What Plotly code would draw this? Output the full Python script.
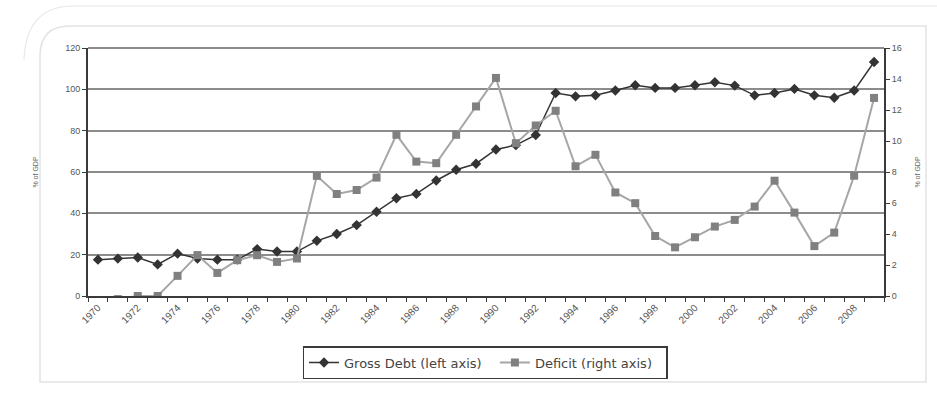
import plotly.graph_objects as go

years = list(range(1970, 2010))
gross_debt = [17.6, 18.1, 18.6, 15.3, 20.5, 18.1, 17.6, 17.6, 22.7, 21.5,
              21.5, 26.7, 30.0, 34.3, 40.8, 47.3, 49.4, 55.9, 61.1, 64.0,
              70.9, 73.0, 77.9, 98.2, 96.6, 97.1, 99.4, 102.0, 100.7, 100.7,
              102.0, 103.4, 101.8, 97.1, 98.2, 100.2, 97.1, 95.9, 99.4, 113.2]
deficit = [-0.6, -0.2, 0.0, 0.0, 1.3, 2.64, 1.49, 2.31, 2.63, 2.2,
           2.42, 7.75, 6.58, 6.84, 7.64, 10.4, 8.67, 8.57, 10.4, 12.23,
           14.07, 9.86, 11.0, 11.95, 8.37, 9.11, 6.68, 5.99, 3.87, 3.14,
           3.79, 4.48, 4.91, 5.77, 7.44, 5.38, 3.22, 4.09, 7.76, 12.78]
label_years = list(range(1970, 2010, 2))
left_ticks = [0, 20, 40, 60, 80, 100, 120]
right_ticks = [0, 2, 4, 6, 8, 10, 12, 14, 16]

W, H = 937, 396
L, R, T, B = 88, 53, 48, 100
PW, PH = W - L - R, H - T - B

def px(x):
    return (x - L) / PW

def py(y):
    return (H - B - y) / PH

FONT = "Arial, Liberation Sans, sans-serif"
NB = "\u00a0\u00a0"

fig = go.Figure()
fig.add_trace(go.Scatter(
    x=years, y=gross_debt, name="Gross Debt (left axis)" + NB, mode="lines+markers",
    line=dict(color="#333333", width=1.5),
    marker=dict(symbol="diamond", size=8, color="#333333"),
    yaxis="y"))
fig.add_trace(go.Scatter(
    x=years, y=deficit, name="Deficit (right axis)" + NB, mode="lines+markers",
    line=dict(color="#a6a6a6", width=2),
    marker=dict(symbol="square", size=8, color="#808080"),
    yaxis="y2"))

fig.update_layout(
    width=W, height=H,
    margin=dict(l=L, r=R, t=T, b=B, pad=0),
    paper_bgcolor="white", plot_bgcolor="white",
    font=dict(family=FONT, color="#555555", size=9),
    xaxis=dict(
        range=[1969.5, 2009.5], tickmode="array", tickvals=label_years,
        ticktext=[str(y) for y in label_years], tickangle=-45,
        tickfont=dict(size=10, color="#555555"),
        ticks="", showgrid=False, zeroline=False,
        showline=True, linecolor="#3a3a3a", linewidth=2,
        minor=dict(tick0=1969.5, dtick=1, ticks="outside", ticklen=4,
                   tickcolor="#3a3a3a", tickwidth=1, showgrid=False),
    ),
    yaxis=dict(
        range=[0, 120], tickvals=left_ticks, ticks="outside", ticklen=4,
        tickcolor="#3a3a3a", showgrid=True, gridcolor="#8c8c8c", gridwidth=2,
        zeroline=False, showline=True, linecolor="#3a3a3a", linewidth=2,
        tickfont=dict(size=9, color="#555555"),
        title=dict(text="% of GDP", font=dict(size=7, color="#666666"), standoff=26),
    ),
    yaxis2=dict(
        range=[0, 16], tickvals=right_ticks, overlaying="y", side="right",
        ticks="outside", ticklen=4, tickcolor="#3a3a3a", showgrid=False,
        zeroline=False, showline=True, linecolor="#3a3a3a", linewidth=2,
        tickfont=dict(size=9, color="#555555"),
        title=dict(text="% of GDP", font=dict(size=7, color="#666666"), standoff=14),
    ),
    legend=dict(
        orientation="h", x=px(485), xanchor="center", y=py(346), yanchor="top",
        bordercolor="#3a3a3a", borderwidth=1.5, bgcolor="white",
        font=dict(size=13, color="#444444", family="DejaVu Sans, sans-serif"),
        itemwidth=30, tracegroupgap=0,
    ),
    showlegend=True,
)

# top border line at 120 (plot-area top)
fig.add_shape(type="line", xref="paper", yref="paper", x0=0, x1=1, y0=1, y1=1,
              line=dict(color="#8c8c8c", width=2), layer="above")

# decorative rounded frames
r = 30
inner = (f"M {px(40)},{py(26 + r)} Q {px(40)},{py(26)} {px(40 + r)},{py(26)} "
         f"L {px(926)},{py(26)} L {px(926)},{py(382)} L {px(40)},{py(382)} Z")
fig.add_shape(type="path", xref="paper", yref="paper", path=inner,
              line=dict(color="#e3e3e3", width=1.5), layer="below")
outer = (f"M {px(24)},{py(60)} Q {px(26)},{py(8)} {px(70)},{py(6)} "
         f"L {px(937)},{py(6)}")
fig.add_shape(type="path", xref="paper", yref="paper", path=outer,
              line=dict(color="#e8e8e8", width=1.2), layer="below")

fig.write_html("out.html")
